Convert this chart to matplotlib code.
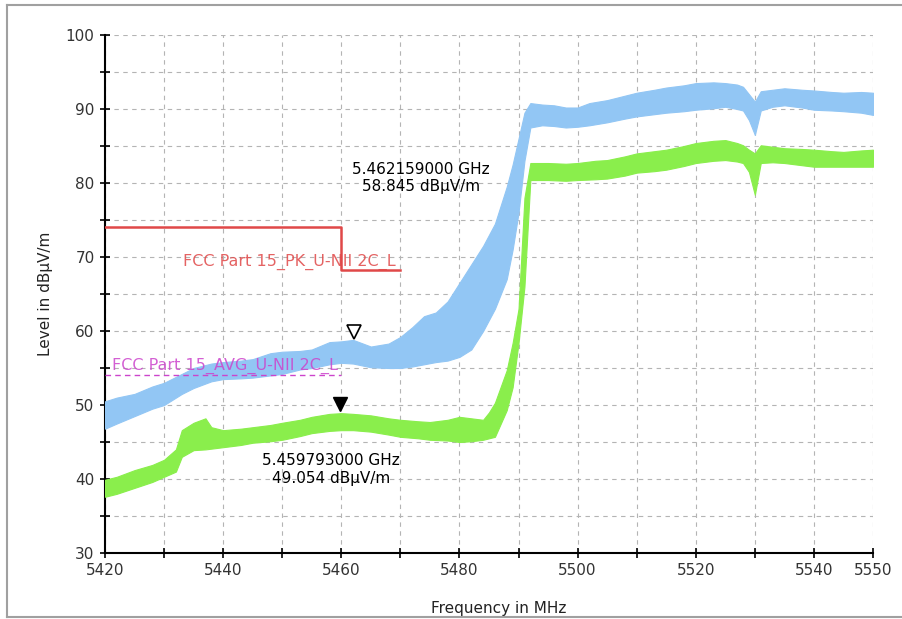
import matplotlib
matplotlib.use("Agg")
import matplotlib.pyplot as plt
from matplotlib.lines import Line2D
from matplotlib.transforms import offset_copy

# peak trace (blue), lower / upper envelope of the noisy band, dBuV/m
pk_freq = [5420, 5422, 5425, 5428, 5430, 5433, 5435, 5438, 5440, 5443, 5445, 5448,
           5450, 5453, 5455, 5458, 5460, 5462, 5465, 5468, 5470, 5472, 5474, 5476,
           5478, 5480, 5482, 5484, 5486, 5487, 5488, 5489, 5490, 5491, 5492, 5494,
           5496, 5498, 5500, 5502, 5505, 5508, 5510, 5513, 5515, 5518, 5520, 5523,
           5525, 5527, 5528, 5529, 5530, 5531, 5533, 5535, 5538, 5540, 5543, 5545,
           5548, 5550]
pk_lo = [46.8, 47.5, 48.5, 49.5, 50.0, 51.5, 52.3, 53.2, 53.5, 53.6, 53.7, 54.0,
         54.2, 54.8, 55.0, 55.5, 55.7, 55.6, 55.1, 55.0, 55.0, 55.2, 55.5, 55.8,
         56.0, 56.5, 57.5, 60.0, 63.0, 65.0, 67.0, 71.0, 76.0, 83.0, 87.5, 87.8,
         87.7, 87.5, 87.6, 87.8, 88.2, 88.7, 89.0, 89.3, 89.5, 89.7, 89.9, 90.1,
         90.3, 90.0, 89.8, 88.5, 86.5, 89.8, 90.3, 90.5, 90.2, 89.9, 89.8, 89.7,
         89.5, 89.2]
pk_hi = [50.5, 51.0, 51.5, 52.5, 53.0, 54.2, 55.0, 55.6, 55.8, 56.0, 56.2, 57.0,
         57.2, 57.3, 57.5, 58.5, 58.6, 58.8, 57.9, 58.3, 59.2, 60.5, 62.0, 62.5,
         64.0, 66.5, 69.0, 71.5, 74.5, 77.0, 79.5, 82.5, 86.0, 89.5, 90.8, 90.6,
         90.5, 90.2, 90.2, 90.8, 91.2, 91.8, 92.2, 92.6, 92.9, 93.2, 93.5, 93.6,
         93.5, 93.3, 93.0, 92.0, 91.0, 92.4, 92.6, 92.8, 92.6, 92.5, 92.3, 92.2,
         92.3, 92.2]

# average trace (green)
av_freq = [5420, 5422, 5425, 5428, 5430, 5432, 5433, 5435, 5437, 5438, 5440, 5443,
           5445, 5448, 5450, 5453, 5455, 5458, 5460, 5462, 5465, 5468, 5470, 5473,
           5475, 5478, 5480, 5482, 5484, 5485, 5486, 5487, 5488, 5489, 5490, 5491,
           5492, 5495, 5498, 5500, 5503, 5505, 5508, 5510, 5513, 5515, 5518, 5520,
           5523, 5525, 5527, 5528, 5529, 5530, 5531, 5533, 5535, 5538, 5540, 5543,
           5545, 5548, 5550]
av_lo = [37.6, 38.0, 38.8, 39.6, 40.3, 41.0, 43.0, 43.9, 44.0, 44.1, 44.3, 44.6,
         44.9, 45.1, 45.3, 45.8, 46.2, 46.5, 46.6, 46.6, 46.4, 46.0, 45.7, 45.5,
         45.3, 45.2, 45.0, 45.1, 45.3, 45.5, 45.7, 47.5, 49.3, 52.4, 58.4, 66.0,
         80.4, 80.4, 80.3, 80.4, 80.5, 80.6, 81.0, 81.4, 81.6, 81.8, 82.3, 82.7,
         83.0, 83.1, 82.9, 82.7, 81.5, 78.4, 82.7, 82.8, 82.7, 82.4, 82.2, 82.2,
         82.2, 82.2, 82.2]
av_hi = [39.9, 40.3, 41.2, 41.9, 42.6, 44.0, 46.6, 47.6, 48.2, 47.0, 46.6, 46.8,
         47.0, 47.3, 47.6, 48.0, 48.4, 48.8, 48.9, 48.8, 48.6, 48.2, 48.0, 47.8,
         47.7, 48.0, 48.4, 48.2, 48.0, 49.0, 50.3, 52.5, 54.7, 58.4, 63.0, 78.0,
         82.7, 82.7, 82.6, 82.7, 83.0, 83.1, 83.6, 84.0, 84.3, 84.5, 85.0, 85.4,
         85.7, 85.8, 85.4, 85.1, 84.5, 84.0, 85.1, 84.9, 84.7, 84.6, 84.5, 84.3,
         84.2, 84.4, 84.5]

# limit lines
pk_limit_freq = [5420, 5460, 5460, 5470]
pk_limit_val = [74.0, 74.0, 68.2, 68.2]
avg_limit_freq = [5420, 5460]
avg_limit_val = [54.0, 54.0]

# markers
mk_pk = (5462.159, 58.845)
mk_av = (5459.793, 49.054)

x_ticks = list(range(5420, 5551, 10))
x_labels = ["5420", "", "5440", "", "5460", "", "5480", "", "5500", "", "5520", "",
            "5540", "5550"]
y_ticks = list(range(30, 101, 5))
y_labels = [str(v) if v % 10 == 0 else "" for v in y_ticks]

BLUE = "#92c6f4"
GREEN = "#8aee4c"
RED = "#e04848"
MAGENTA = "#cc44cc"

fig = plt.figure(figsize=(9.02, 6.19), dpi=100)
ax = fig.add_axes([105 / 902, 1 - 553 / 619, 768 / 902, 518 / 619])

ax.fill_between(pk_freq, pk_lo, pk_hi, color=BLUE, lw=0.8, zorder=3)
ax.fill_between(av_freq, av_lo, av_hi, color=GREEN, lw=0.8, zorder=3)

ax.plot(pk_limit_freq, pk_limit_val, color=RED, lw=1.8, zorder=4)
ax.plot(avg_limit_freq, avg_limit_val, color=MAGENTA, lw=1.0, ls=(0, (4, 3)), zorder=4)
ax.text(5433.2, 69.3, "FCC Part 15_PK_U-NII 2C_L", color=RED, fontsize=11.5,
        va="center", ha="left", alpha=0.85, zorder=5)
ax.text(5421.2, 55.3, "FCC Part 15_AVG_U-NII 2C_L", color=MAGENTA, fontsize=11.5,
        va="center", ha="left", alpha=0.85, zorder=5)

# marker triangles sit just above the marked point
tr = offset_copy(ax.transData, fig=fig, x=0, y=5.5, units="points")
ax.plot([mk_pk[0]], [mk_pk[1]], marker="v", ms=10, mfc="white", mec="black",
        mew=1.2, ls="none", transform=tr, zorder=6)
ax.plot([mk_av[0]], [mk_av[1]], marker="v", ms=10, mfc="black", mec="black",
        ls="none", transform=tr, zorder=6)
ax.text(5473.5, 80.7, "%.9f GHz\n%.3f dBµV/m" % (mk_pk[0] / 1000, mk_pk[1]),
        ha="center", va="center", fontsize=11, linespacing=1.2, zorder=6)
ax.text(5458.2, 41.3, "%.9f GHz\n%.3f dBµV/m" % (mk_av[0] / 1000, mk_av[1]),
        ha="center", va="center", fontsize=11, linespacing=1.2, zorder=6)

ax.set_xlim(5420, 5550)
ax.set_ylim(30, 100)
ax.set_xticks(x_ticks)
ax.set_xticklabels(x_labels)
ax.set_yticks(y_ticks)
ax.set_yticklabels(y_labels)
ax.tick_params(direction="inout", length=7, width=1.2, labelsize=11,
               colors="black", labelcolor="#333333", pad=4)
ax.grid(True, color="#b4b4b4", ls=(0, (4, 4)), lw=0.8, zorder=1)
for side in ("top", "right"):
    ax.spines[side].set_visible(False)
for side in ("left", "bottom"):
    ax.spines[side].set_linewidth(1.5)
ax.set_xlabel("Frequency in MHz", fontsize=11, color="#222222")
ax.set_ylabel("Level in dBµV/m", fontsize=11, color="#222222")
ax.xaxis.set_label_coords(0.513, -0.092)
ax.yaxis.set_label_coords(-0.068, 0.5)

# outer panel frame
for xs, ys in (([7 / 902, 1], [1 - 5 / 619] * 2),
               ([7 / 902] * 2, [1 - 5 / 619, 1 - 617 / 619]),
               ([7 / 902, 1], [1 - 617 / 619] * 2)):
    fig.add_artist(Line2D(xs, ys, color="#a0a0a0", lw=1.5, transform=fig.transFigure))

fig.savefig("out.png", dpi=100)
